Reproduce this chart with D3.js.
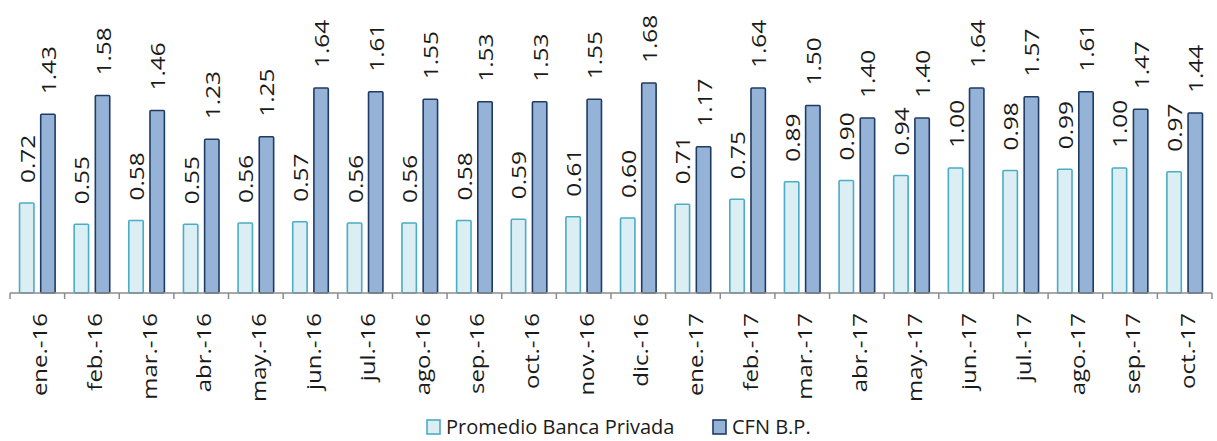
<!DOCTYPE html>
<html>
<head>
<meta charset="utf-8">
<script src="https://cdn.jsdelivr.net/npm/d3@7"></script>
<style>
  body { margin: 0; background: #fff; }
  text { font-family: "Open Sans", sans-serif; fill: #1a1a1a; }
</style>
</head>
<body>
<svg id="chart" width="1217" height="441"></svg>
<script>
// months on the x axis
var months = ["ene.-16", "feb.-16", "mar.-16", "abr.-16", "may.-16", "jun.-16", "jul.-16", "ago.-16",
  "sep.-16", "oct.-16", "nov.-16", "dic.-16", "ene.-17", "feb.-17", "mar.-17", "abr.-17",
  "may.-17", "jun.-17", "jul.-17", "ago.-17", "sep.-17", "oct.-17"];
var seriesNames = ["Promedio Banca Privada", "CFN B.P."];
var promedio = [0.72, 0.55, 0.58, 0.55, 0.56, 0.57, 0.56, 0.56, 0.58, 0.59, 0.61, 0.60,
  0.71, 0.75, 0.89, 0.90, 0.94, 1.00, 0.98, 0.99, 1.00, 0.97];
var cfn = [1.43, 1.58, 1.46, 1.23, 1.25, 1.64, 1.61, 1.55, 1.53, 1.53, 1.55, 1.68,
  1.17, 1.64, 1.50, 1.40, 1.40, 1.64, 1.57, 1.61, 1.47, 1.44];

var fills = ["#dbeef3", "#95b3d7"];
var strokes = ["#4bacc6", "#1f3b63"];

var svg = d3.select("#chart");
var axisY = 293;

var x = d3.scaleBand().domain(months).range([10, 1212]);
var x1 = d3.scaleBand().domain(seriesNames).range([0, x.bandwidth()])
  .paddingInner(0.32).paddingOuter(0.45);
var y = d3.scaleLinear().domain([0, 2]).range([axisY, axisY - 250]);

var rows = months.map(function (m, i) {
  return { month: m, vals: [promedio[i], cfn[i]] };
});

var groups = svg.selectAll(".grp")
  .data(rows)
  .enter().append("g")
  .attr("class", "grp")
  .attr("transform", function (d) { return "translate(" + x(d.month) + ",0)"; });

groups.selectAll("rect")
  .data(function (d) { return d.vals.map(function (v, k) { return { k: k, v: v }; }); })
  .enter().append("rect")
  .attr("x", function (d) { return x1(seriesNames[d.k]); })
  .attr("y", function (d) { return y(d.v); })
  .attr("width", x1.bandwidth())
  .attr("height", function (d) { return y(0) - y(d.v); })
  .attr("rx", 1)
  .attr("fill", function (d) { return fills[d.k]; })
  .attr("stroke", function (d) { return strokes[d.k]; })
  .attr("stroke-width", 1.6);

// value labels, rotated and stretched like the original
groups.selectAll(".val")
  .data(function (d) { return d.vals.map(function (v, k) { return { k: k, v: v }; }); })
  .enter().append("text")
  .attr("class", "val")
  .attr("font-size", 20)
  .attr("transform", function (d) {
    var cx = x1(seriesNames[d.k]) + x1.bandwidth() / 2 + 8;
    return "translate(" + cx + "," + (y(d.v) - 20) + ") rotate(-90) scale(1.22,1)";
  })
  .text(function (d) { return d.v.toFixed(2); });

// x axis
var xAxis = svg.append("g").attr("transform", "translate(0," + axisY + ")");
xAxis.append("line")
  .attr("x1", 10).attr("x2", 1212)
  .attr("stroke", "#8c8c8c").attr("stroke-width", 1.5);
xAxis.selectAll(".tick")
  .data(months.concat(["end"]))
  .enter().append("line")
  .attr("x1", function (d) { return d === "end" ? 1212 : x(d); })
  .attr("x2", function (d) { return d === "end" ? 1212 : x(d); })
  .attr("y1", 0).attr("y2", 6)
  .attr("stroke", "#8c8c8c").attr("stroke-width", 1.5);
xAxis.selectAll(".lab")
  .data(months)
  .enter().append("text")
  .attr("class", "lab")
  .attr("font-size", 20)
  .attr("text-anchor", "end")
  .attr("transform", function (d) {
    return "translate(" + (x(d) + x.bandwidth() / 2 + 10) + ",20) rotate(-90) scale(1.2,1)";
  })
  .text(function (d) { return d; });

// legend
var legendX = [427, 713];
var legend = svg.selectAll(".leg")
  .data(seriesNames)
  .enter().append("g")
  .attr("class", "leg")
  .attr("transform", function (d, i) { return "translate(" + legendX[i] + ",420)"; });
legend.append("rect")
  .attr("width", 13).attr("height", 14)
  .attr("fill", function (d, i) { return fills[i]; })
  .attr("stroke", function (d, i) { return strokes[i]; })
  .attr("stroke-width", 1.6);
legend.append("text")
  .attr("x", 19).attr("y", 14)
  .attr("font-size", 20)
  .text(function (d) { return d; });
</script>
</body>
</html>
